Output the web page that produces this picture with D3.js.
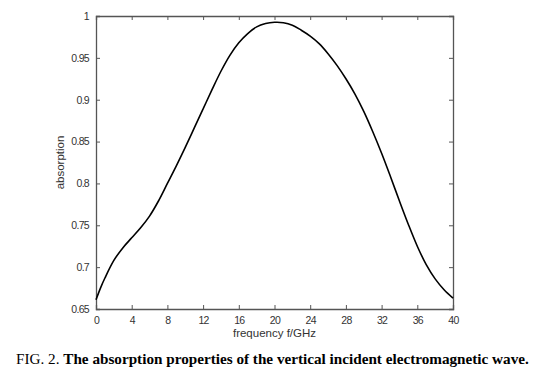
<!DOCTYPE html>
<html lang="en">
<head>
<meta charset="UTF-8">
<title>absorption</title>
<script src="https://d3js.org/d3.v7.min.js"></script>
<style>
  body { margin: 0; background: #fff; }
  .tick text { font-family: Arial, "Liberation Sans", sans-serif; font-size: 10.5px; letter-spacing: -0.7px; fill: #333; }
</style>
</head>
<body>
<svg id="chart" width="536" height="373"></svg>
<script>
// frequency (GHz) and absorption
const freq = [0, 0.5, 1, 2, 3, 4, 5, 6, 7, 8, 9, 10, 11, 12, 13, 14, 15, 16, 17, 18, 19, 20,
              21, 22, 23, 24, 25, 26, 27, 28, 29, 30, 31, 32, 33, 34, 35, 36, 37, 38, 39, 40];
const absorption = [0.661, 0.675, 0.687, 0.708, 0.723, 0.735, 0.747, 0.761, 0.779, 0.800, 0.821, 0.843, 0.866, 0.889, 0.912, 0.934, 0.953, 0.968, 0.979, 0.987, 0.991, 0.9925,
                    0.992, 0.989, 0.983, 0.976, 0.967, 0.955, 0.941, 0.925, 0.907, 0.886, 0.862, 0.836, 0.808, 0.779, 0.751, 0.725, 0.703, 0.686, 0.673, 0.663];
const xTicks = [0, 4, 8, 12, 16, 20, 24, 28, 32, 36, 40];
const yTicks = [0.65, 0.7, 0.75, 0.8, 0.85, 0.9, 0.95, 1];

const svg = d3.select("#chart");
const mLeft = 96, mRight = 453, mTop = 16, mBottom = 309;

const x = d3.scaleLinear().domain([0, 40]).range([mLeft, mRight]);
const y = d3.scaleLinear().domain([0.65, 1]).range([mBottom, mTop]);

const axisColor = "#555";

// bottom axis with labels, ticks inward
const gx = svg.append("g").attr("transform", `translate(0,${mBottom})`)
    .call(d3.axisBottom(x).tickValues(xTicks).tickSize(-4).tickPadding(8).tickFormat(d3.format("d")));
// left axis
const gy = svg.append("g").attr("transform", `translate(${mLeft},0)`)
    .call(d3.axisLeft(y).tickValues(yTicks).tickSize(-4).tickPadding(7).tickFormat(d => d === 1 ? "1" : d3.format(".2~f")(d)));
// top and right, ticks only
const gt = svg.append("g").attr("transform", `translate(0,${mTop})`)
    .call(d3.axisTop(x).tickValues(xTicks).tickSize(-4).tickFormat(""));
const gr = svg.append("g").attr("transform", `translate(${mRight},0)`)
    .call(d3.axisRight(y).tickValues(yTicks).tickSize(-4).tickFormat(""));

[gx, gy, gt, gr].forEach(g => {
  g.select(".domain").attr("stroke", axisColor).attr("stroke-width", 1.3);
  g.selectAll(".tick line").attr("stroke", axisColor);
});

// curve
const pts = freq.map((f, i) => [f, absorption[i]]);
svg.append("path")
    .datum(pts)
    .attr("fill", "none")
    .attr("stroke", "#000")
    .attr("stroke-width", 1.6)
    .attr("d", d3.line().x(d => x(d[0])).y(d => y(d[1])).curve(d3.curveCatmullRom));

// axis titles
svg.append("text")
    .attr("x", (mLeft + mRight) / 2).attr("y", 337)
    .attr("text-anchor", "middle")
    .style("font-family", "Arial, 'Liberation Sans', sans-serif")
    .style("font-size", "11.5px").style("fill", "#333")
    .text("frequency f/GHz");
svg.append("text")
    .attr("transform", `translate(64,${(mTop + mBottom) / 2}) rotate(-90)`)
    .attr("text-anchor", "middle")
    .style("font-family", "Arial, 'Liberation Sans', sans-serif")
    .style("font-size", "11.5px").style("fill", "#333")
    .text("absorption");

// caption
const cap = svg.append("text")
    .attr("x", 16).attr("y", 364)
    .style("font-family", "'Liberation Serif', 'Times New Roman', serif")
    .style("font-size", "15.2px").style("fill", "#000");
cap.append("tspan").text("FIG. 2. ");
cap.append("tspan").style("font-weight", "bold")
    .text("The absorption properties of the vertical incident electromagnetic wave.");
</script>
</body>
</html>
